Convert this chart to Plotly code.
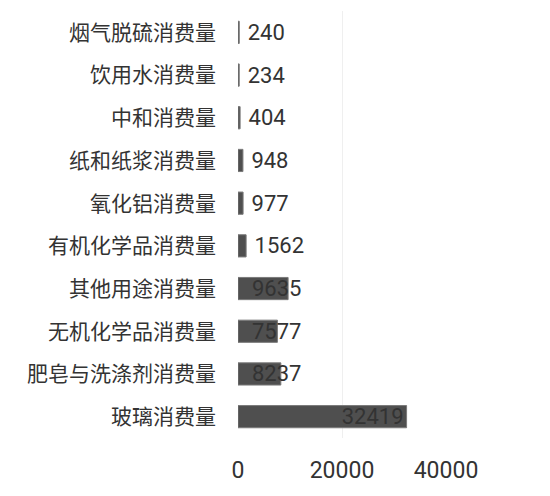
import plotly.graph_objects as go

categories = ['烟气脱硫消费量', '饮用水消费量', '中和消费量', '纸和纸浆消费量', '氧化铝消费量',
              '有机化学品消费量', '其他用途消费量', '无机化学品消费量', '肥皂与洗涤剂消费量', '玻璃消费量']
values = [240, 234, 404, 948, 977, 1562, 9635, 7577, 8237, 32419]
x_ticks = [0, 20000, 40000]

num_font = 'Roboto, Noto Sans'
cjk_font = 'Noto Sans CJK SC'
bar_color = '#4f4f4f'
text_color = '#333333'

# mid sized bars have their label near the bar start, the rest at the end
mid = [5000 < v < 20000 for v in values]
end_cats = [c for c, m in zip(categories, mid) if not m]
end_vals = [v for v, m in zip(values, mid) if not m]
mid_cats = [c for c, m in zip(categories, mid) if m]
mid_vals = [v for v, m in zip(values, mid) if m]

end_bars = go.Bar(
    y=end_cats,
    x=end_vals,
    orientation='h',
    marker=dict(color=bar_color, line=dict(color='#7a7a7a', width=1)),
    text=[str(v) if v > 20000 else '\u00a0' + str(v) for v in end_vals],
    textposition=['inside' if v > 20000 else 'outside' for v in end_vals],
    insidetextanchor='end',
    constraintext='none',
    cliponaxis=False,
    textfont=dict(family=num_font, size=22, color=text_color),
    insidetextfont=dict(family=num_font, size=22, color=text_color),
    outsidetextfont=dict(family=num_font, size=22, color=text_color),
)

mid_bars = go.Bar(
    y=mid_cats,
    x=mid_vals,
    orientation='h',
    marker=dict(color=bar_color, line=dict(color='#7a7a7a', width=1)),
    text=['\u00a0\u00a0' + str(v) for v in mid_vals],
    textposition='inside',
    insidetextanchor='start',
    constraintext='none',
    cliponaxis=False,
    textfont=dict(family=num_font, size=22, color=text_color),
    insidetextfont=dict(family=num_font, size=22, color=text_color),
)

fig = go.Figure(data=[end_bars, mid_bars])
# page body adds 8px, so margins are trimmed by that much
fig.update_layout(
    width=550,
    height=496,
    margin=dict(l=230, r=112, t=3, b=66),
    paper_bgcolor='white',
    plot_bgcolor='white',
    barmode='overlay',
    bargap=0.48,
    showlegend=False,
)
fig.update_xaxes(
    range=[0, 40000],
    tickvals=x_ticks,
    ticktext=[str(t) for t in x_ticks],
    automargin=False,
    showgrid=True,
    gridcolor='#efefef',
    zeroline=False,
    showline=False,
    ticklabelstandoff=16,
    tickfont=dict(family=num_font, size=23, color=text_color),
)
fig.update_yaxes(
    categoryorder='array',
    categoryarray=categories,
    autorange='reversed',
    automargin=False,
    showgrid=False,
    showline=False,
    ticks='',
    ticklabelstandoff=21,
    tickfont=dict(family=cjk_font, size=21, color=text_color),
)

fig.write_html('out.html')
